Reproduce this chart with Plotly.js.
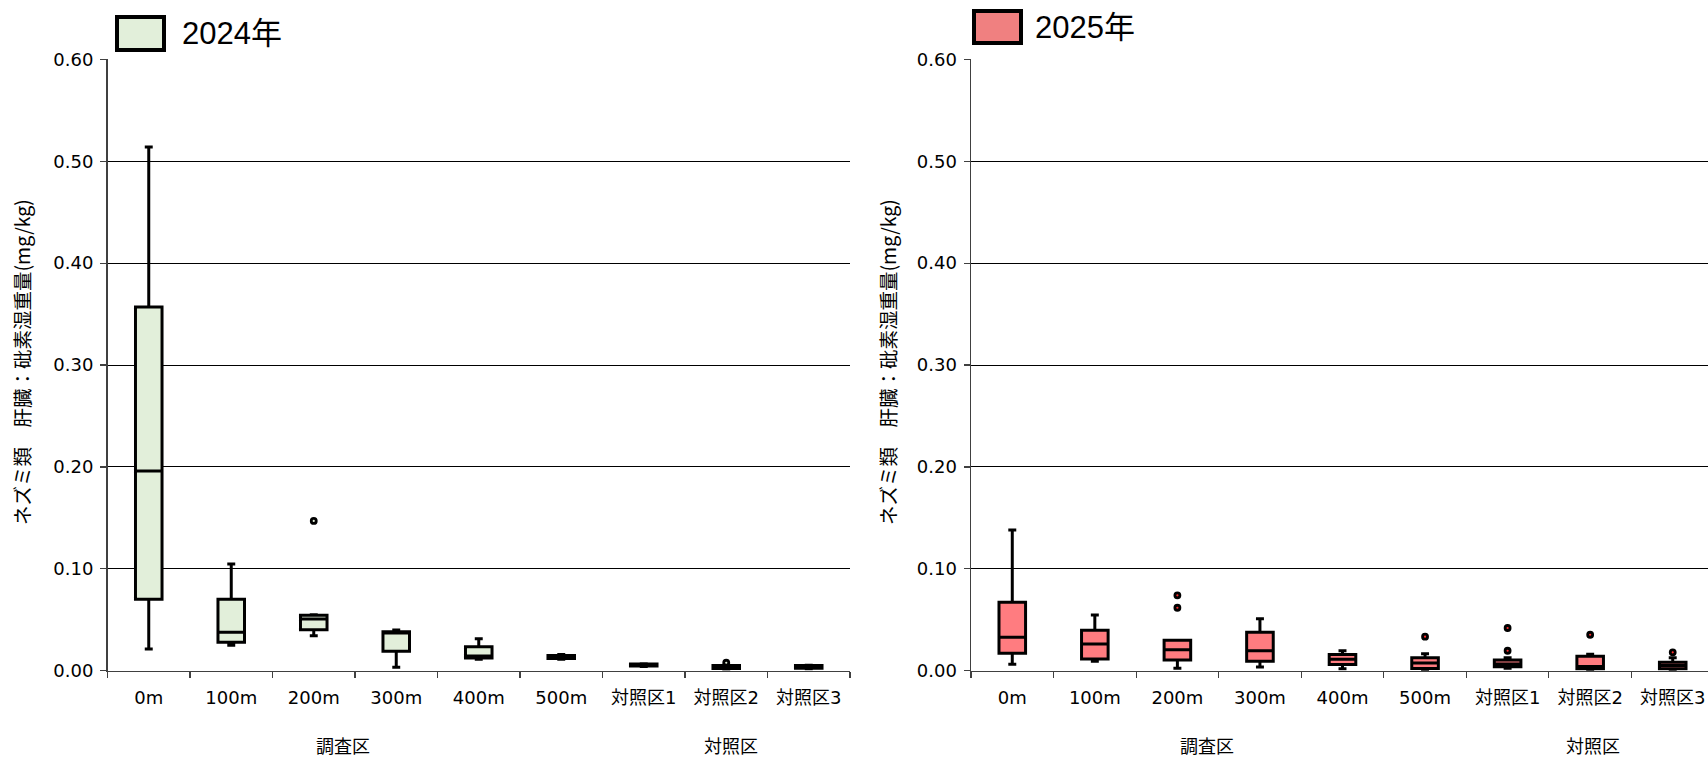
<!DOCTYPE html>
<html>
<head>
<meta charset="utf-8">
<script src="https://cdn.plot.ly/plotly-3.0.1.min.js"></script>
<style>
html, body { margin: 0; padding: 0; overflow: hidden; background: #fff; }
#chart { width: 1716px; height: 758px; }
</style>
</head>
<body>
<div id="chart"></div>
<script>
// ---- data ----
const categories = ['0m', '100m', '200m', '300m', '400m', '500m', '対照区1', '対照区2', '対照区3'];

// 2024
const lower2024  = [0.0213, 0.0249, 0.0343, 0.0033, 0.0112, 0.0112, 0.0040, 0.0017, 0.0020];
const q1_2024    = [0.0700, 0.0279, 0.0402, 0.0190, 0.0124, 0.0120, 0.0045, 0.0022, 0.0025];
const med2024    = [0.1960, 0.0377, 0.0507, 0.0370, 0.0145, 0.0135, 0.0055, 0.0035, 0.0037];
const q3_2024    = [0.3570, 0.0700, 0.0545, 0.0383, 0.0236, 0.0150, 0.0066, 0.0050, 0.0050];
const upper2024  = [0.5140, 0.1047, 0.0550, 0.0400, 0.0314, 0.0160, 0.0069, 0.0053, 0.0053];
const outX2024 = ['200m', '対照区2'];
const outY2024 = [0.147, 0.0078];

// 2025
const lower2025  = [0.0063, 0.0092, 0.0023, 0.0036, 0.0018, 0.0005, 0.0023, 0.0006, 0.0006];
const q1_2025    = [0.0171, 0.0115, 0.0105, 0.0092, 0.0060, 0.0022, 0.0038, 0.0020, 0.0018];
const med2025    = [0.0328, 0.0262, 0.0206, 0.0196, 0.0112, 0.0076, 0.0065, 0.0040, 0.0050];
const q3_2025    = [0.0671, 0.0396, 0.0298, 0.0377, 0.0160, 0.0128, 0.0105, 0.0141, 0.0082];
const upper2025  = [0.1380, 0.0547, 0.0300, 0.0510, 0.0195, 0.0167, 0.0128, 0.0161, 0.0128];
const outX2025 = ['200m', '200m', '500m', '対照区1', '対照区1', '対照区2', '対照区3'];
const outY2025 = [0.0740, 0.0618, 0.0334, 0.0419, 0.0196, 0.0353, 0.0180];

const yTitle = 'ネズミ類　肝臓：砒素湿重量(mg/kg)';
const groupLabels = ['調査区', '対照区'];
const yearLabels = ['2024年', '2025年'];

// ---- styling ----
const W = 1716, H = 758;
const px = v => v / W;
const py = v => 1 - v / H;
const fill2024 = '#E2EFDA';
const fill2025 = '#FF7C80';
const legendFill2025 = '#F08080';
const tickFont = { family: 'DejaVu Sans, Noto Sans CJK JP, sans-serif', size: 18, color: '#000' };
const cjkFont = { family: 'Noto Sans CJK JP, sans-serif', size: 18, color: '#000' };
const titleFont = { family: 'Noto Sans CJK JP, sans-serif', size: 19.5, color: '#000' };

function boxTrace(q1, med, q3, lo, hi, fc, xa, ya) {
  return {
    type: 'box', x: categories, q1: q1, median: med, q3: q3,
    lowerfence: lo, upperfence: hi,
    fillcolor: fc, line: { color: '#000', width: 3 },
    whiskerwidth: 0.3, boxpoints: false,
    xaxis: xa, yaxis: ya, hoverinfo: 'skip'
  };
}
function outTrace(xs, ys, fc, xa, ya) {
  return {
    type: 'scatter', mode: 'markers', x: xs, y: ys,
    marker: { size: 5, color: fc, line: { color: '#000', width: 2.8 } },
    xaxis: xa, yaxis: ya, hoverinfo: 'skip'
  };
}

const data = [
  boxTrace(q1_2024, med2024, q3_2024, lower2024, upper2024, fill2024, 'x', 'y'),
  outTrace(outX2024, outY2024, fill2024, 'x', 'y'),
  boxTrace(q1_2025, med2025, q3_2025, lower2025, upper2025, fill2025, 'x2', 'y2'),
  outTrace(outX2025, outY2025, '#FF3030', 'x2', 'y2')
];

function xAxis(d0, d1, anchor) {
  return {
    domain: [px(d0), px(d1)], anchor: anchor, type: 'category',
    categoryorder: 'array', categoryarray: categories,
    range: [-0.5, 8.5], showline: true, linecolor: '#404040', linewidth: 1.5,
    ticks: 'outside', tickson: 'boundaries', ticklen: 6, tickcolor: '#404040', tickwidth: 1.2,
    tickfont: tickFont, ticklabelstandoff: 10, showgrid: false, zeroline: false,
    fixedrange: true
  };
}
function yAxis(anchor) {
  return {
    domain: [py(670.7), py(59.3)], anchor: anchor,
    range: [0, 0.6], dtick: 0.1, tick0: 0, tickformat: '.2f',
    showline: true, linecolor: '#404040', linewidth: 1.5,
    ticks: 'outside', ticklen: 6, tickcolor: '#404040', tickwidth: 1.2,
    tickfont: tickFont, ticklabelstandoff: 3,
    showgrid: true, gridcolor: '#000', gridwidth: 1, zeroline: false,
    fixedrange: true
  };
}

const layout = {
  width: W, height: H,
  margin: { l: 0, r: 0, t: 0, b: 0 },
  paper_bgcolor: '#fff', plot_bgcolor: '#fff',
  showlegend: false, boxgap: 0.54,
  xaxis: xAxis(107.5, 850, 'y'),
  yaxis: yAxis('x'),
  xaxis2: xAxis(971, 1714, 'y2'),
  yaxis2: yAxis('x2'),
  shapes: [
    { type: 'rect', xref: 'paper', yref: 'paper', x0: px(117), x1: px(164), y0: py(50), y1: py(17),
      fillcolor: fill2024, line: { color: '#000', width: 4 } },
    { type: 'rect', xref: 'paper', yref: 'paper', x0: px(974), x1: px(1021), y0: py(43), y1: py(11),
      fillcolor: legendFill2025, line: { color: '#000', width: 4 } }
  ],
  annotations: [
    { text: yearLabels[0], xref: 'paper', yref: 'paper', x: px(180), y: py(33), xanchor: 'left', yanchor: 'middle',
      showarrow: false, font: { family: 'Liberation Sans, Noto Sans CJK JP, sans-serif', size: 31, color: '#000' } },
    { text: yearLabels[1], xref: 'paper', yref: 'paper', x: px(1033), y: py(27), xanchor: 'left', yanchor: 'middle',
      showarrow: false, font: { family: 'Liberation Sans, Noto Sans CJK JP, sans-serif', size: 31, color: '#000' } },
    { text: yTitle, xref: 'paper', yref: 'paper', x: px(22), y: py(362), textangle: -90,
      xanchor: 'center', yanchor: 'middle', showarrow: false, font: titleFont },
    { text: yTitle, xref: 'paper', yref: 'paper', x: px(888), y: py(362), textangle: -90,
      xanchor: 'center', yanchor: 'middle', showarrow: false, font: titleFont },
    { text: groupLabels[0], xref: 'x', yref: 'paper', x: 2.36, y: py(745), xanchor: 'center', yanchor: 'middle',
      showarrow: false, font: cjkFont },
    { text: groupLabels[1], xref: 'x', yref: 'paper', x: 7.06, y: py(745), xanchor: 'center', yanchor: 'middle',
      showarrow: false, font: cjkFont },
    { text: groupLabels[0], xref: 'x2', yref: 'paper', x: 2.36, y: py(745), xanchor: 'center', yanchor: 'middle',
      showarrow: false, font: cjkFont },
    { text: groupLabels[1], xref: 'x2', yref: 'paper', x: 7.04, y: py(745), xanchor: 'center', yanchor: 'middle',
      showarrow: false, font: cjkFont }
  ]
};

Plotly.newPlot('chart', data, layout, { displayModeBar: false, staticPlot: true });
</script>
</body>
</html>
